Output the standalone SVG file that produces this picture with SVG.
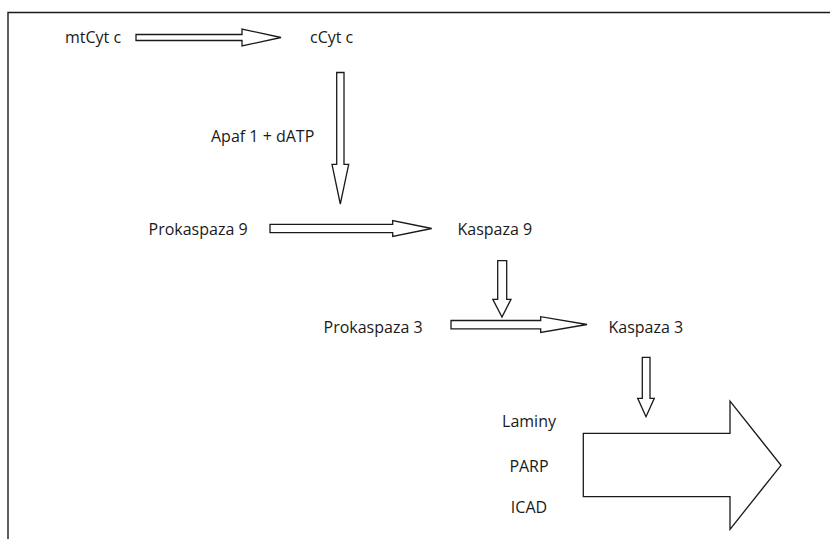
<svg xmlns="http://www.w3.org/2000/svg" width="830" height="539" viewBox="0 0 830 539">
<style>
text{font-family:"Open Sans","Noto Sans","Liberation Sans",sans-serif;font-size:16px;fill:#1a1a1a}
.arr{fill:#fff;stroke:#1a1a1a;stroke-width:1.3;stroke-linejoin:miter}
.frame{fill:none;stroke:#1a1a1a;stroke-width:1.4}
</style>
<rect width="830" height="539" fill="#fff"/>
<path class="frame" d="M8,539 V12.5 H830"/>
<g id="n-mtcytc"><text x="65" y="42.5">mtCyt c</text></g>
<g id="n-ccytc"><text x="310" y="42.5">cCyt c</text></g>
<g id="n-apaf"><text x="211" y="142">Apaf 1 + dATP</text></g>
<g id="n-prokaspaza9"><text x="148.5" y="234.5">Prokaspaza 9</text></g>
<g id="n-kaspaza9"><text x="457.5" y="234.5">Kaspaza 9</text></g>
<g id="n-prokaspaza3"><text x="323.5" y="332.5">Prokaspaza 3</text></g>
<g id="n-kaspaza3"><text x="608.5" y="332.5">Kaspaza 3</text></g>
<g id="n-laminy"><text x="529" y="427" text-anchor="middle">Laminy</text></g>
<g id="n-parp"><text x="529" y="471.5" text-anchor="middle">PARP</text></g>
<g id="n-icad"><text x="529" y="513" text-anchor="middle">ICAD</text></g>
<g id="connectors">
<polygon class="arr" points="136,34.5 242,34.5 242,29 281,37.5 242,46 242,40.5 136,40.5"/>
<polygon class="arr" points="336.7,72.5 344,72.5 344,164.3 348.7,164.3 340.3,204 332,164.3 336.7,164.3"/>
<polygon class="arr" points="270,224.3 392.7,224.3 392.7,220.5 431.7,228.5 392.7,236.5 392.7,232.7 270,232.7"/>
<polygon class="arr" points="497.7,260.7 506.7,260.7 506.7,299.3 511,299.3 502,317 492.8,299.3 497.7,299.3"/>
<polygon class="arr" points="451,320.5 540.7,320.5 540.7,316.7 587,324.5 540.7,332.5 540.7,328.8 451,328.8"/>
<polygon class="arr" points="642.3,357.3 650,357.3 650,398.3 654.3,398.3 646,416.7 637.7,398.3 642.3,398.3"/>
<polygon class="arr" points="583.3,433.3 730,433.3 730,401 781,465.3 730,529.3 730,496.7 583.3,496.7"/>
</g>
</svg>
